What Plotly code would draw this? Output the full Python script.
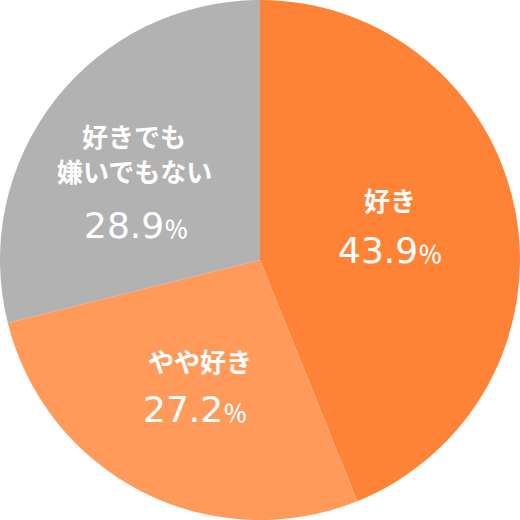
import plotly.graph_objects as go

labels = ["好き", "やや好き", "好きでも嫌いでもない"]
values = [43.9, 27.2, 28.9]
colors = ["#FF8336", "#FF9A5A", "#B2B2B2"]

# label lines as shown on the chart, with their centre positions in px
label_lines = [["好き"], ["やや好き"], ["好きでも", "嫌いでもない"]]
label_pos = [[(390, 200)], [(200, 360)], [(134, 136), (134, 171)]]
value_pos = [(390, 250), (195, 409), (136, 225)]

W = H = 520
jp_font = "Noto Sans CJK JP, sans-serif"
num_font = "DejaVu Sans, sans-serif"

fig = go.Figure()
fig.add_trace(go.Pie(
    labels=labels,
    values=values,
    sort=False,
    direction="clockwise",
    rotation=0,
    marker=dict(colors=colors, line=dict(width=0)),
    textinfo="none",
    hoverinfo="label+percent",
    showlegend=False,
))

annotations = []
for lines, lpos, v, (vx, vy) in zip(label_lines, label_pos, values, value_pos):
    for txt, (lx, ly) in zip(lines, lpos):
        annotations.append(dict(
            x=lx / W, y=1 - ly / H, xref="paper", yref="paper",
            xanchor="center", yanchor="middle",
            text=txt, showarrow=False,
            font=dict(family=jp_font, size=26, color="white", weight="bold"),
        ))
    annotations.append(dict(
        x=vx / W, y=1 - vy / H, xref="paper", yref="paper",
        xanchor="center", yanchor="middle",
        text=(f"{v:.1f}<span style='font-family:Noto Sans CJK JP;"
              f"font-size:24px;font-weight:500'>％</span>"),
        showarrow=False,
        font=dict(family=num_font, size=36, color="white"),
    ))

fig.update_layout(
    width=W, height=H,
    margin=dict(l=0, r=0, t=0, b=0),
    paper_bgcolor="white",
    plot_bgcolor="white",
    annotations=annotations,
)

fig.write_html("out.html", config={"displayModeBar": False},
               post_script="document.body.style.margin='0';")
